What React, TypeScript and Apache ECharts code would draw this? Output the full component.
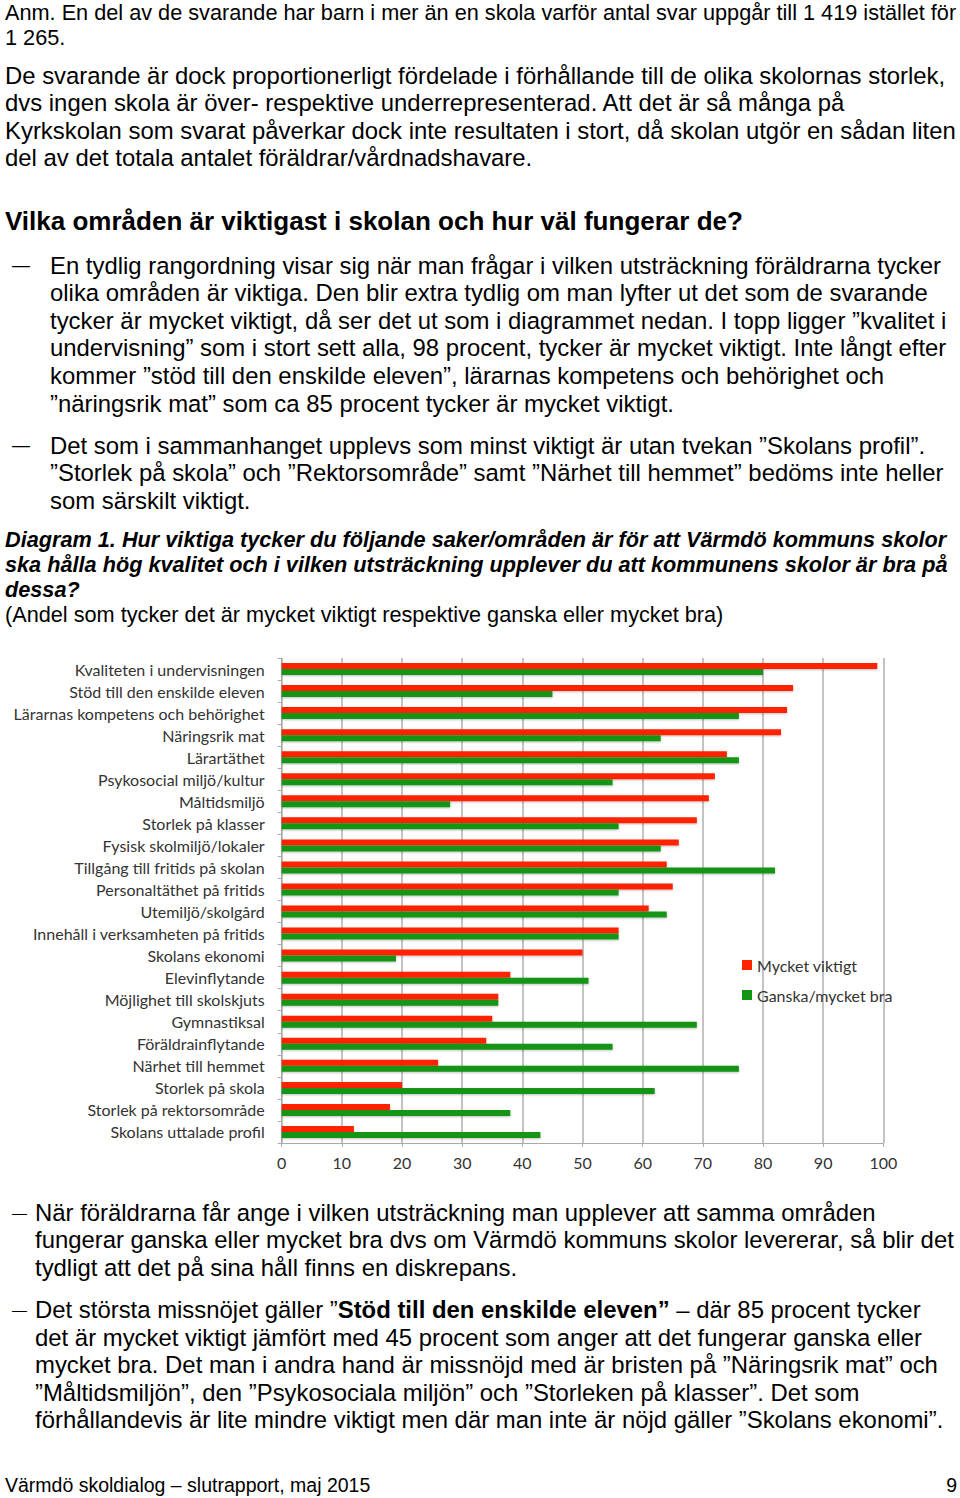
import React, { useEffect, useRef } from "react";
import * as echarts from "echarts";

// ---------- chart data ----------
const categories = [
  "Kvaliteten i undervisningen",
  "Stöd till den enskilde eleven",
  "Lärarnas kompetens och behörighet",
  "Näringsrik mat",
  "Lärartäthet",
  "Psykosocial miljö/kultur",
  "Måltidsmiljö",
  "Storlek på klasser",
  "Fysisk skolmiljö/lokaler",
  "Tillgång till fritids på skolan",
  "Personaltäthet på fritids",
  "Utemiljö/skolgård",
  "Innehåll i verksamheten på fritids",
  "Skolans ekonomi",
  "Elevinflytande",
  "Möjlighet till skolskjuts",
  "Gymnastiksal",
  "Föräldrainflytande",
  "Närhet till hemmet",
  "Storlek på skola",
  "Storlek på rektorsområde",
  "Skolans uttalade profil",
];
const mycketViktigt = [99, 85, 84, 83, 74, 72, 71, 69, 66, 64, 65, 61, 56, 50, 38, 36, 35, 34, 26, 20, 18, 12];
const ganskaBra = [80, 45, 76, 63, 76, 55, 28, 56, 63, 82, 56, 64, 56, 19, 51, 36, 69, 55, 76, 62, 38, 43];
const seriesNames = ["Mycket viktigt", "Ganska/mycket bra"];

// ---------- page text ----------
const noteLines = [
  "Anm. En del av de svarande har barn i mer än en skola varför antal svar uppgår till 1 419 istället för",
  "1 265.",
];
const para1 = [
  "De svarande är dock proportionerligt fördelade i förhållande till de olika skolornas storlek,",
  "dvs ingen skola är över- respektive underrepresenterad. Att det är så många på",
  "Kyrkskolan som svarat påverkar dock inte resultaten i stort, då skolan utgör en sådan liten",
  "del av det totala antalet föräldrar/vårdnadshavare.",
];
const heading = "Vilka områden är viktigast i skolan och hur väl fungerar de?";
const bullet1 = [
  "En tydlig rangordning visar sig när man frågar i vilken utsträckning föräldrarna tycker",
  "olika områden är viktiga. Den blir extra tydlig om man lyfter ut det som de svarande",
  "tycker är mycket viktigt, då ser det ut som i diagrammet nedan. I topp ligger ”kvalitet i",
  "undervisning” som i stort sett alla, 98 procent, tycker är mycket viktigt. Inte långt efter",
  "kommer ”stöd till den enskilde eleven”, lärarnas kompetens och behörighet och",
  "”näringsrik mat” som ca 85 procent tycker är mycket viktigt.",
];
const bullet2 = [
  "Det som i sammanhanget upplevs som minst viktigt är utan tvekan ”Skolans profil”.",
  "”Storlek på skola” och ”Rektorsområde” samt ”Närhet till hemmet” bedöms inte heller",
  "som särskilt viktigt.",
];
const caption = [
  "Diagram 1. Hur viktiga tycker du följande saker/områden är för att Värmdö kommuns skolor",
  "ska hålla hög kvalitet och i vilken utsträckning upplever du att kommunens skolor är bra på",
  "dessa?",
];
const subCaption = "(Andel som tycker det är mycket viktigt respektive ganska eller mycket bra)";
const bullet3 = [
  "När föräldrarna får ange i vilken utsträckning man upplever att samma områden",
  "fungerar ganska eller mycket bra dvs om Värmdö kommuns skolor levererar, så blir det",
  "tydligt att det på sina håll finns en diskrepans.",
];
const bullet4 = [
  "{n|Det största missnöjet gäller ”}{b|Stöd till den enskilde eleven”}{n| – där 85 procent tycker}",
  "det är mycket viktigt jämfört med 45 procent som anger att det fungerar ganska eller",
  "mycket bra. Det man i andra hand är missnöjd med är bristen på ”Näringsrik mat” och",
  "”Måltidsmiljön”, den ”Psykosociala miljön” och ”Storleken på klasser”. Det som",
  "förhållandevis är lite mindre viktigt men där man inte är nöjd gäller ”Skolans ekonomi”.",
];
const footerLeft = "Värmdö skoldialog – slutrapport, maj 2015";
const footerRight = "9";

const BODY_FONT = "'Liberation Sans', Arial, Helvetica, sans-serif";
const CHART_FONT = "Lato, 'Noto Sans', sans-serif";
const BODY_SIZE = 23.9;
const SMALL_SIZE = 21.7;

function lines(
  texts: string[],
  x: number,
  y0: number,
  step: number,
  extra: any = {}
) {
  return texts.map((t, i) => ({
    type: "text",
    x,
    y: y0 + i * step,
    style: {
      text: t,
      fontSize: BODY_SIZE,
      fontFamily: BODY_FONT,
      fill: "#000",
      align: "left",
      verticalAlign: "middle",
      ...extra,
    },
  }));
}

function dash(x: number, y: number, size: number) {
  return {
    type: "text",
    x,
    y,
    style: {
      text: "—",
      fontSize: size,
      fontFamily: BODY_FONT,
      fill: "#000",
      verticalAlign: "middle",
    },
  };
}

export default function App() {
  const ref = useRef<HTMLDivElement>(null);

  useEffect(() => {
    const chart = echarts.init(ref.current!, null, { renderer: "svg" });
    const richNormal = { fontSize: BODY_SIZE, fontFamily: BODY_FONT, fill: "#000" };
    const graphic: any[] = [
      ...lines(noteLines, 5, 12, 25, { fontSize: SMALL_SIZE }),
      ...lines(para1, 5, 75, 27.6),
      ...lines([heading], 5, 221, 0, { fontSize: 26, fontWeight: "bold" }),
      dash(12, 265, 18),
      ...lines(bullet1, 50, 265, 27.6),
      dash(12, 445, 18),
      ...lines(bullet2, 50, 445, 27.5),
      ...lines(caption, 5, 539, 25, { fontSize: SMALL_SIZE, fontWeight: "bold", fontStyle: "italic" }),
      ...lines([subCaption], 5, 614, 0, { fontSize: SMALL_SIZE }),
      dash(12, 1212, 15),
      ...lines(bullet3, 35, 1212, 27.5),
      dash(12, 1309, 15),
      ...lines(bullet4.slice(0, 1), 35, 1309, 0, {
        rich: {
          n: { ...richNormal },
          b: { ...richNormal, fontWeight: "bold" },
        },
      }),
      ...lines(bullet4.slice(1), 35, 1337, 27.5),
      ...lines([footerLeft], 5, 1485, 0, { fontSize: 19.5 }),
      ...lines([footerRight], 957, 1485, 0, { fontSize: 19.5, align: "right" }),
    ];

    const barShadow = {
      shadowColor: "rgba(0,0,0,0.25)",
      shadowBlur: 2,
      shadowOffsetY: 1,
    };

    chart.setOption({
      animation: false,
      backgroundColor: "#ffffff",
      textStyle: { fontFamily: CHART_FONT },
      grid: { left: 281.7, right: 76.7, top: 658, height: 485, containLabel: false },
      legend: {
        data: seriesNames,
        orient: "vertical",
        left: 737,
        top: 952,
        itemWidth: 10,
        itemHeight: 10,
        itemGap: 14,
        icon: "rect",
        textStyle: { fontSize: 16, color: "#333", fontFamily: CHART_FONT, lineHeight: 16 },
      },
      xAxis: {
        type: "value",
        min: 0,
        max: 100,
        interval: 10,
        axisLine: { show: true, lineStyle: { color: "#aaa", width: 1 } },
        axisTick: { show: true, length: 4, lineStyle: { color: "#aaa" } },
        axisLabel: { fontSize: 16, color: "#333", margin: 11, fontFamily: CHART_FONT },
        splitLine: { show: true, lineStyle: { color: "#bdbdbd", width: 1.8 } },
      },
      yAxis: {
        type: "category",
        data: categories,
        inverse: true,
        axisLine: { show: true, lineStyle: { color: "#aaa", width: 1 } },
        axisTick: { show: true, length: 4, lineStyle: { color: "#aaa" } },
        axisLabel: { fontSize: 16, color: "#333", margin: 17, fontFamily: CHART_FONT },
        splitLine: { show: false },
      },
      series: [
        {
          name: seriesNames[0],
          type: "bar",
          data: mycketViktigt,
          barWidth: 6,
          barGap: "0%",
          itemStyle: { color: "#ff2400", ...barShadow },
        },
        {
          name: seriesNames[1],
          type: "bar",
          data: ganskaBra,
          barWidth: 6,
          barGap: "0%",
          itemStyle: { color: "#149414", ...barShadow },
        },
      ],
      graphic,
    });
    return () => chart.dispose();
  }, []);

  return (
    <div
      ref={ref}
      style={{ position: "absolute", left: 0, top: 0, width: 960, height: 1498, background: "#fff" }}
    />
  );
}
